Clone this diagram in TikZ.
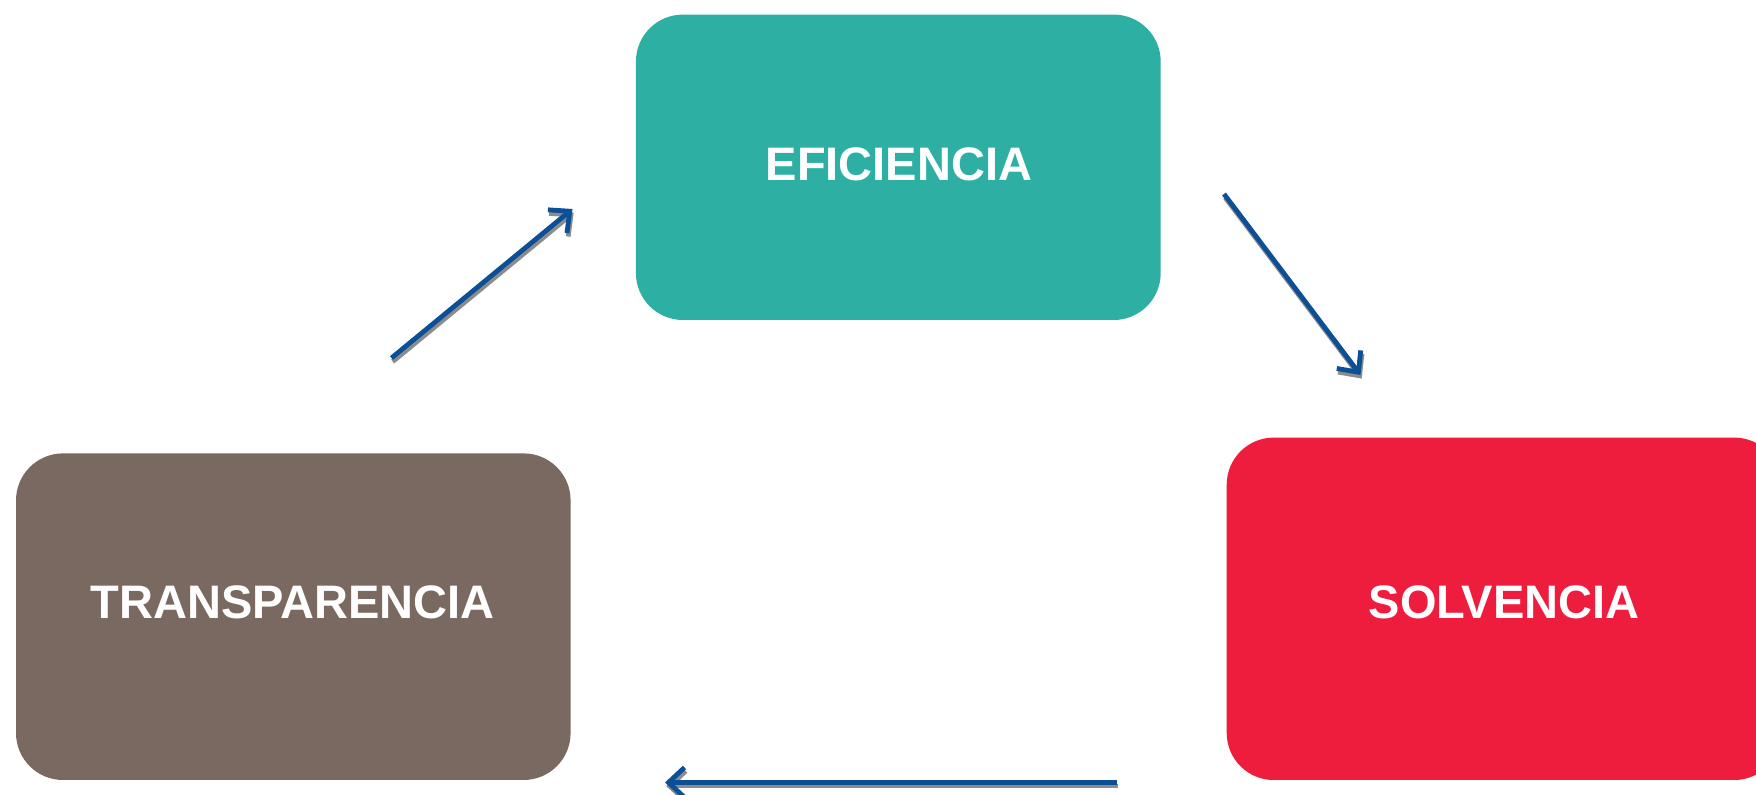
\documentclass[tikz,border=0pt]{standalone}
\usepackage{fontspec}
\setmainfont{Liberation Sans}
\usetikzlibrary{arrows.meta}
\definecolor{tealbox}{HTML}{2EAFA4}
\definecolor{brownbox}{HTML}{7A6960}
\definecolor{redbox}{HTML}{EE1C3D}
\definecolor{arrowblue}{HTML}{0B4F96}
\definecolor{shadowgray}{HTML}{8C8C8C}
\tikzset{
  box/.style={rounded corners=23.5pt, inner sep=0pt, draw=none},
  boxtext/.style={text=white, font=\fontsize{23.5}{28}\selectfont\bfseries, inner sep=0pt},
  flow/.style={line width=2.4pt, draw=arrowblue, -{Straight Barb[length=8pt,width=15pt]}},
  flowshadow/.style={line width=2.4pt, draw=shadowgray, -{Straight Barb[length=8pt,width=15pt]}, transform canvas={xshift=0.6pt,yshift=-1.8pt}},
}
\begin{document}
\begin{tikzpicture}[x=0.5pt,y=-0.5pt]
\useasboundingbox (0,0) rectangle (1756,795);
\clip (0,0) rectangle (1756,795);
% boxes
\node[box, fill=tealbox, minimum width=262.4pt, minimum height=152.7pt] (eff) at (898.3,167.3) {};
\node[box, fill=brownbox, minimum width=277.3pt, minimum height=163.3pt] (tra) at (293.3,616.7) {};
\node[box, fill=redbox, minimum width=277.3pt, minimum height=171.2pt] (sol) at (1504,608.8) {};
% texts
\node[boxtext] (efft) at (899,164) {EFICIENCIA};
\node[boxtext] (trat) at (292.5,602.5) {TRANSPARENCIA};
\node[boxtext] (solt) at (1504,602) {SOLVENCIA};
% arrow end points
\coordinate (a1s) at (391.5,358);
\coordinate (a1e) at (572.5,209);
\coordinate (a2s) at (1224,194);
\coordinate (a2e) at (1360.5,375);
\coordinate (a3s) at (1117,782.5);
\coordinate (a3e) at (665,782.5);
% shadows
\draw[flowshadow] (a1s) -- (a1e);
\draw[flowshadow] (a2s) -- (a2e);
\draw[flowshadow] (a3s) -- (a3e);
% arrows
\draw[flow] (a1s) -- (a1e);
\draw[flow] (a2s) -- (a2e);
\draw[flow] (a3s) -- (a3e);
\end{tikzpicture}
\end{document}
